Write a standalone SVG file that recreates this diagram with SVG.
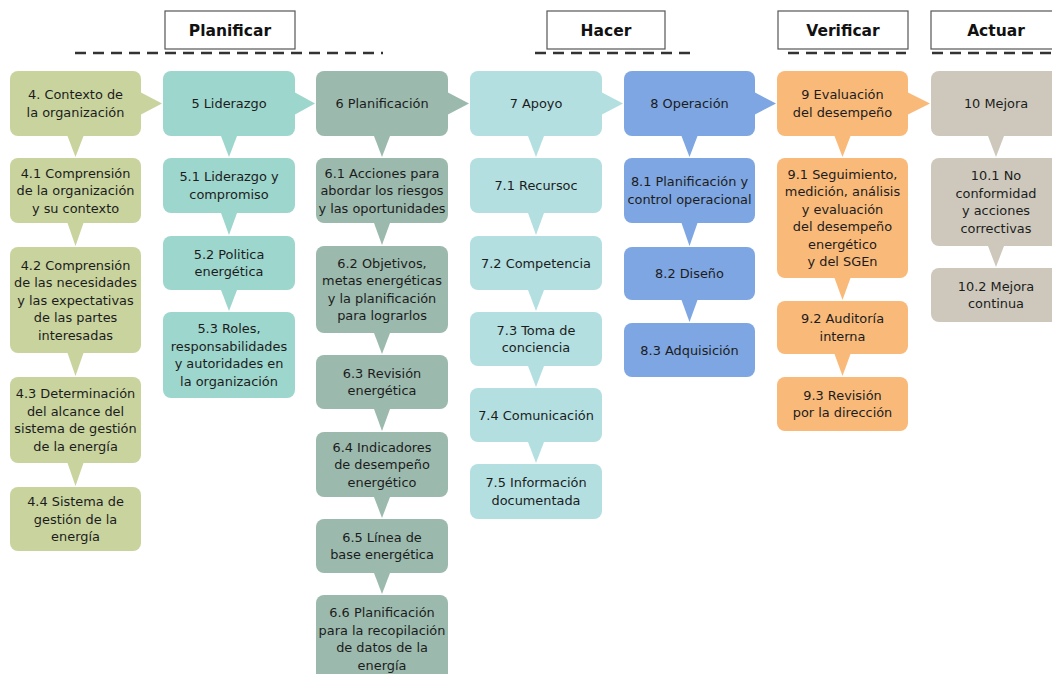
<svg xmlns="http://www.w3.org/2000/svg" width="1052" height="674" viewBox="0 0 1052 674">
<style>
.t{font-family:"DejaVu Sans","Verdana",sans-serif;font-size:12.9px;fill:#1c1c1c;text-anchor:middle}
.h{font-family:"DejaVu Sans","Verdana",sans-serif;font-size:15.5px;font-weight:bold;fill:#111;text-anchor:middle}
.hb{fill:#fff;stroke:#555;stroke-width:1.2}
.dash{stroke:#333;stroke-width:2.5;stroke-dasharray:11 7}
.c4{fill:#c8d39e}.c5{fill:#9dd6cd}.c6{fill:#9bb9ac}.c7{fill:#b3dfe1}.c8{fill:#7ea6e2}.c9{fill:#f9b979}.c10{fill:#cdc8bb}
</style>
<rect width="1052" height="674" fill="#fff"/>
<g id="headers">
<rect class="hb" x="165" y="11" width="130" height="38"/><text class="h" x="230" y="36">Planificar</text>
<line class="dash" x1="75" y1="53" x2="383" y2="53"/>
<rect class="hb" x="547" y="11" width="118" height="38"/><text class="h" x="606" y="36">Hacer</text>
<line class="dash" x1="535" y1="53" x2="690" y2="53"/>
<rect class="hb" x="778" y="11" width="130" height="38"/><text class="h" x="843" y="36">Verificar</text>
<line class="dash" x1="788" y1="53" x2="906" y2="53"/>
<rect class="hb" x="931" y="11" width="130" height="38"/><text class="h" x="996" y="36">Actuar</text>
<line class="dash" x1="932" y1="53" x2="1052" y2="53"/>
</g>
<g id="connectors">
<polygon class="c4" points="141,92.5 141,114.5 162,103.5"/>
<polygon class="c5" points="295,92.5 295,114.5 315,103.5"/>
<polygon class="c6" points="448,92.5 448,114.5 469,103.5"/>
<polygon class="c7" points="602,92.5 602,114.5 623,103.5"/>
<polygon class="c8" points="755,92.5 755,114.5 776,103.5"/>
<polygon class="c9" points="908,92.5 908,114.5 930,103.5"/>
<polygon class="c4" points="67.5,136 83.5,136 75.5,157"/>
<polygon class="c4" points="67.5,223 83.5,223 75.5,246"/>
<polygon class="c4" points="67.5,353 83.5,353 75.5,376"/>
<polygon class="c4" points="67.5,463 83.5,463 75.5,486"/>
<polygon class="c5" points="221,136 237,136 229,157"/>
<polygon class="c5" points="221,213 237,213 229,235"/>
<polygon class="c5" points="221,290 237,290 229,311"/>
<polygon class="c6" points="374,136 390,136 382,157"/>
<polygon class="c6" points="374,223 390,223 382,245"/>
<polygon class="c6" points="374,333 390,333 382,354"/>
<polygon class="c6" points="374,409 390,409 382,431"/>
<polygon class="c6" points="374,497 390,497 382,518"/>
<polygon class="c6" points="374,573 390,573 382,594"/>
<polygon class="c7" points="528,136 544,136 536,157"/>
<polygon class="c7" points="528,213 544,213 536,235"/>
<polygon class="c7" points="528,290 544,290 536,311"/>
<polygon class="c7" points="528,366 544,366 536,387"/>
<polygon class="c7" points="528,442 544,442 536,463"/>
<polygon class="c8" points="681.5,136 697.5,136 689.5,157"/>
<polygon class="c8" points="681.5,223 697.5,223 689.5,246"/>
<polygon class="c8" points="681.5,300 697.5,300 689.5,322"/>
<polygon class="c9" points="834.5,136 850.5,136 842.5,157"/>
<polygon class="c9" points="834.5,278 850.5,278 842.5,300"/>
<polygon class="c9" points="834.5,354 850.5,354 842.5,376"/>
<polygon class="c10" points="988,136 1004,136 996,157"/>
<polygon class="c10" points="988,246 1004,246 996,267"/>
</g>
<g id="n4"><rect class="c4" x="10" y="71" width="131" height="65" rx="8"/><text class="t" x="75.5" y="99.3">4. Contexto de</text><text class="t" x="75.5" y="116.8">la organización</text></g>
<g id="n41"><rect class="c4" x="10" y="158" width="131" height="65" rx="8"/><text class="t" x="75.5" y="177.5">4.1 Comprensión</text><text class="t" x="75.5" y="195">de la organización</text><text class="t" x="75.5" y="212.5">y su contexto</text></g>
<g id="n42"><rect class="c4" x="10" y="247" width="131" height="106" rx="8"/><text class="t" x="75.5" y="269.5">4.2 Comprensión</text><text class="t" x="75.5" y="287">de las necesidades</text><text class="t" x="75.5" y="304.5">y las expectativas</text><text class="t" x="75.5" y="322">de las partes</text><text class="t" x="75.5" y="339.5">interesadas</text></g>
<g id="n43"><rect class="c4" x="10" y="377" width="131" height="86" rx="8"/><text class="t" x="75.5" y="398.3">4.3 Determinación</text><text class="t" x="75.5" y="415.8">del alcance del</text><text class="t" x="75.5" y="433.3">sistema de gestión</text><text class="t" x="75.5" y="450.8">de la energía</text></g>
<g id="n44"><rect class="c4" x="10" y="487" width="131" height="64" rx="8"/><text class="t" x="75.5" y="506">4.4 Sistema de</text><text class="t" x="75.5" y="523.5">gestión de la</text><text class="t" x="75.5" y="541">energía</text></g>
<g id="n5"><rect class="c5" x="163" y="71" width="132" height="65" rx="8"/><text class="t" x="229" y="108">5 Liderazgo</text></g>
<g id="n51"><rect class="c5" x="163" y="158" width="132" height="55" rx="8"/><text class="t" x="229" y="181.3">5.1 Liderazgo y</text><text class="t" x="229" y="198.8">compromiso</text></g>
<g id="n52"><rect class="c5" x="163" y="236" width="132" height="54" rx="8"/><text class="t" x="229" y="258.8">5.2 Politica</text><text class="t" x="229" y="276.3">energética</text></g>
<g id="n53"><rect class="c5" x="163" y="312" width="132" height="86" rx="8"/><text class="t" x="229" y="333.3">5.3 Roles,</text><text class="t" x="229" y="350.8">responsabilidades</text><text class="t" x="229" y="368.3">y autoridades en</text><text class="t" x="229" y="385.8">la organización</text></g>
<g id="n6"><rect class="c6" x="316" y="71" width="132" height="65" rx="8"/><text class="t" x="382" y="108">6 Planificación</text></g>
<g id="n61"><rect class="c6" x="316" y="158" width="132" height="65" rx="8"/><text class="t" x="382" y="177.5">6.1 Acciones para</text><text class="t" x="382" y="195">abordar los riesgos</text><text class="t" x="382" y="212.5">y las oportunidades</text></g>
<g id="n62"><rect class="c6" x="316" y="246" width="132" height="87" rx="8"/><text class="t" x="382" y="267.8">6.2 Objetivos,</text><text class="t" x="382" y="285.3">metas energéticas</text><text class="t" x="382" y="302.8">y la planificación</text><text class="t" x="382" y="320.3">para lograrlos</text></g>
<g id="n63"><rect class="c6" x="316" y="355" width="132" height="54" rx="8"/><text class="t" x="382" y="377.8">6.3 Revisión</text><text class="t" x="382" y="395.3">energética</text></g>
<g id="n64"><rect class="c6" x="316" y="432" width="132" height="65" rx="8"/><text class="t" x="382" y="451.5">6.4 Indicadores</text><text class="t" x="382" y="469">de desempeño</text><text class="t" x="382" y="486.5">energético</text></g>
<g id="n65"><rect class="c6" x="316" y="519" width="132" height="54" rx="8"/><text class="t" x="382" y="541.8">6.5 Línea de</text><text class="t" x="382" y="559.3">base energética</text></g>
<g id="n66"><rect class="c6" x="316" y="595" width="132" height="92" rx="8"/><text class="t" x="382" y="617">6.6 Planificación</text><text class="t" x="382" y="634.5">para la recopilación</text><text class="t" x="382" y="652">de datos de la</text><text class="t" x="382" y="669.5">energía</text></g>
<g id="n7"><rect class="c7" x="470" y="71" width="132" height="65" rx="8"/><text class="t" x="536" y="108">7 Apoyo</text></g>
<g id="n71"><rect class="c7" x="470" y="158" width="132" height="55" rx="8"/><text class="t" x="536" y="190">7.1 Recursoc</text></g>
<g id="n72"><rect class="c7" x="470" y="236" width="132" height="54" rx="8"/><text class="t" x="536" y="267.5">7.2 Competencia</text></g>
<g id="n73"><rect class="c7" x="470" y="312" width="132" height="54" rx="8"/><text class="t" x="536" y="334.8">7.3 Toma de</text><text class="t" x="536" y="352.3">conciencia</text></g>
<g id="n74"><rect class="c7" x="470" y="388" width="132" height="54" rx="8"/><text class="t" x="536" y="419.5">7.4 Comunicación</text></g>
<g id="n75"><rect class="c7" x="470" y="464" width="132" height="55" rx="8"/><text class="t" x="536" y="487.3">7.5 Información</text><text class="t" x="536" y="504.8">documentada</text></g>
<g id="n8"><rect class="c8" x="624" y="71" width="131" height="65" rx="8"/><text class="t" x="689.5" y="108">8 Operación</text></g>
<g id="n81"><rect class="c8" x="624" y="158" width="131" height="65" rx="8"/><text class="t" x="689.5" y="186.3">8.1 Planificación y</text><text class="t" x="689.5" y="203.8">control operacional</text></g>
<g id="n82"><rect class="c8" x="624" y="247" width="131" height="53" rx="8"/><text class="t" x="689.5" y="278">8.2 Diseño</text></g>
<g id="n83"><rect class="c8" x="624" y="323" width="131" height="54" rx="8"/><text class="t" x="689.5" y="354.5">8.3 Adquisición</text></g>
<g id="n9"><rect class="c9" x="777" y="71" width="131" height="65" rx="8"/><text class="t" x="842.5" y="99.3">9 Evaluación</text><text class="t" x="842.5" y="116.8">del desempeño</text></g>
<g id="n91"><rect class="c9" x="777" y="158" width="131" height="120" rx="8"/><text class="t" x="842.5" y="178.8">9.1 Seguimiento,</text><text class="t" x="842.5" y="196.3">medición, análisis</text><text class="t" x="842.5" y="213.8">y evaluación</text><text class="t" x="842.5" y="231.3">del desempeño</text><text class="t" x="842.5" y="248.8">energético</text><text class="t" x="842.5" y="266.3">y del SGEn</text></g>
<g id="n92"><rect class="c9" x="777" y="301" width="131" height="53" rx="8"/><text class="t" x="842.5" y="323.3">9.2 Auditoría</text><text class="t" x="842.5" y="340.8">interna</text></g>
<g id="n93"><rect class="c9" x="777" y="377" width="131" height="54" rx="8"/><text class="t" x="842.5" y="399.8">9.3 Revisión</text><text class="t" x="842.5" y="417.3">por la dirección</text></g>
<g id="n10"><rect class="c10" x="931" y="71" width="131" height="65" rx="8"/><text class="t" x="996" y="108">10 Mejora</text></g>
<g id="n101"><rect class="c10" x="931" y="158" width="131" height="88" rx="8"/><text class="t" x="996" y="180.3">10.1 No</text><text class="t" x="996" y="197.8">conformidad</text><text class="t" x="996" y="215.3">y acciones</text><text class="t" x="996" y="232.8">correctivas</text></g>
<g id="n102"><rect class="c10" x="931" y="268" width="131" height="54" rx="8"/><text class="t" x="996" y="290.8">10.2 Mejora</text><text class="t" x="996" y="308.3">continua</text></g>
</svg>
